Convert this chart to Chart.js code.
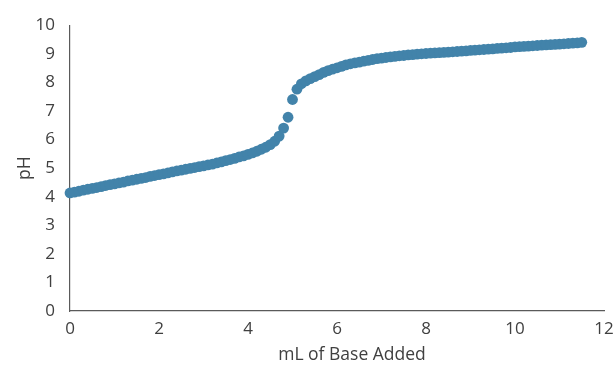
<!DOCTYPE html>
<html>
<head>
<meta charset="utf-8">
<script src="https://cdn.jsdelivr.net/npm/chart.js@4.4.0/dist/chart.umd.min.js"></script>
<style>
	html, body { margin: 0; padding: 0; background: #fff; }
	#wrap { width: 614px; height: 366px; }
</style>
</head>
<body>
<div id="wrap"><canvas id="titration_chart" width="614" height="366"></canvas></div>
<script>
var baseAdded = [
	0.0, 0.1, 0.2, 0.3, 0.4, 0.5, 0.6, 0.7, 0.8, 0.9,
	1.0, 1.1, 1.2, 1.3, 1.4, 1.5, 1.6, 1.7, 1.8, 1.9,
	2.0, 2.1, 2.2, 2.3, 2.4, 2.5, 2.6, 2.7, 2.8, 2.9,
	3.0, 3.1, 3.2, 3.3, 3.4, 3.5, 3.6, 3.7, 3.8, 3.9,
	4.0, 4.1, 4.2, 4.3, 4.4, 4.5, 4.6, 4.7, 4.8, 4.9,
	5.0, 5.1, 5.2, 5.3, 5.4, 5.5, 5.6, 5.7, 5.8, 5.9,
	6.0, 6.1, 6.2, 6.3, 6.4, 6.5, 6.6, 6.7, 6.8, 6.9,
	7.0, 7.1, 7.2, 7.3, 7.4, 7.5, 7.6, 7.7, 7.8, 7.9,
	8.0, 8.1, 8.2, 8.3, 8.4, 8.5, 8.6, 8.7, 8.8, 8.9,
	9.0, 9.1, 9.2, 9.3, 9.4, 9.5, 9.6, 9.7, 9.8, 9.9,
	10.0, 10.1, 10.2, 10.3, 10.4, 10.5, 10.6, 10.7, 10.8, 10.9,
	11.0, 11.1, 11.2, 11.3, 11.4, 11.5
];
var phValues = [
	4.13, 4.16, 4.19, 4.23, 4.26, 4.29, 4.32, 4.35, 4.39, 4.42,
	4.45, 4.48, 4.51, 4.55, 4.58, 4.61, 4.64, 4.67, 4.71, 4.74,
	4.77, 4.80, 4.83, 4.87, 4.90, 4.93, 4.96, 4.99, 5.02, 5.05,
	5.08, 5.11, 5.14, 5.18, 5.22, 5.26, 5.30, 5.34, 5.39, 5.43,
	5.48, 5.53, 5.59, 5.66, 5.73, 5.82, 5.94, 6.12, 6.40, 6.78,
	7.40, 7.76, 7.95, 8.05, 8.13, 8.20, 8.27, 8.35, 8.41, 8.46,
	8.51, 8.56, 8.61, 8.65, 8.68, 8.71, 8.74, 8.77, 8.80, 8.83,
	8.85, 8.87, 8.89, 8.91, 8.93, 8.94, 8.96, 8.97, 8.99, 9.00,
	9.01, 9.02, 9.03, 9.04, 9.05, 9.06, 9.07, 9.08, 9.09, 9.10,
	9.12, 9.13, 9.14, 9.15, 9.16, 9.17, 9.19, 9.20, 9.21, 9.22,
	9.24, 9.25, 9.26, 9.27, 9.28, 9.29, 9.30, 9.31, 9.32, 9.33,
	9.34, 9.35, 9.36, 9.37, 9.38, 9.40
];
var xTicks = [0, 2, 4, 6, 8, 10, 12];
var yTicks = [0, 1, 2, 3, 4, 5, 6, 7, 8, 9, 10];
var xTitle = "mL of Base Added";
var yTitle = "pH";

var textColor = "#404040";
var axisColor = "#5a5a5a";
var fontFamily = "'Open Sans', Lato, sans-serif";

var points = [];
for (var ix = 0; ix < baseAdded.length; ix++) {
	points.push({x: baseAdded[ix], y: phValues[ix]});
}

function useTicks(list) {
	return function(scale) {
		scale.ticks = list.map(function(v) { return {value: v}; });
	};
}

// x axis title sits a little right of the plot centre, as in the original
var xTitlePlugin = {
	id: 'xTitle',
	afterDraw: function(chart) {
		var c = chart.ctx;
		var area = chart.chartArea;
		c.save();
		c.fillStyle = textColor;
		c.font = "17.5px " + fontFamily;
		c.textAlign = "center";
		c.textBaseline = "middle";
		c.fillText(xTitle, (area.left + area.right) / 2 + 15, chart.height - 11);
		c.restore();
	}
};

var ctx = document.getElementById("titration_chart");
var titrationChart = new Chart(ctx, {
	type: 'scatter',
	data: {
		datasets: [{
			data: points,
			backgroundColor: "#4283aa",
			borderWidth: 0,
			pointRadius: 5.4,
			pointHoverRadius: 5.4,
			clip: false
		}]
	},
	plugins: [xTitlePlugin],
	options: {
		responsive: false,
		animation: false,
		events: [],
		layout: { padding: { top: 22, right: 0, left: 0, bottom: 0 } },
		plugins: {
			legend: { display: false },
			tooltip: { enabled: false }
		},
		scales: {
			x: {
				type: 'linear',
				min: 0,
				max: 12,
				grid: { display: false, drawTicks: false },
				border: { display: true, color: axisColor, width: 1.2 },
				afterBuildTicks: useTicks(xTicks),
				afterFit: function(scale) {
					scale.height = 55;
					scale.paddingRight = 10;
				},
				ticks: {
					color: textColor,
					padding: 8,
					maxRotation: 0,
					font: { family: fontFamily, size: 17 }
				}
			},
			y: {
				type: 'linear',
				min: 0,
				max: 10,
				grid: { display: false, drawTicks: false },
				border: { display: true, color: axisColor, width: 1.2 },
				afterBuildTicks: useTicks(yTicks),
				afterFit: function(scale) { scale.width = 70; },
				ticks: {
					color: textColor,
					padding: 15,
					font: { family: fontFamily, size: 17 }
				},
				title: {
					display: true,
					text: yTitle,
					color: textColor,
					padding: { top: 15, bottom: 0 },
					font: { family: fontFamily, size: 17.5 }
				}
			}
		}
	}
});
</script>
</body>
</html>
